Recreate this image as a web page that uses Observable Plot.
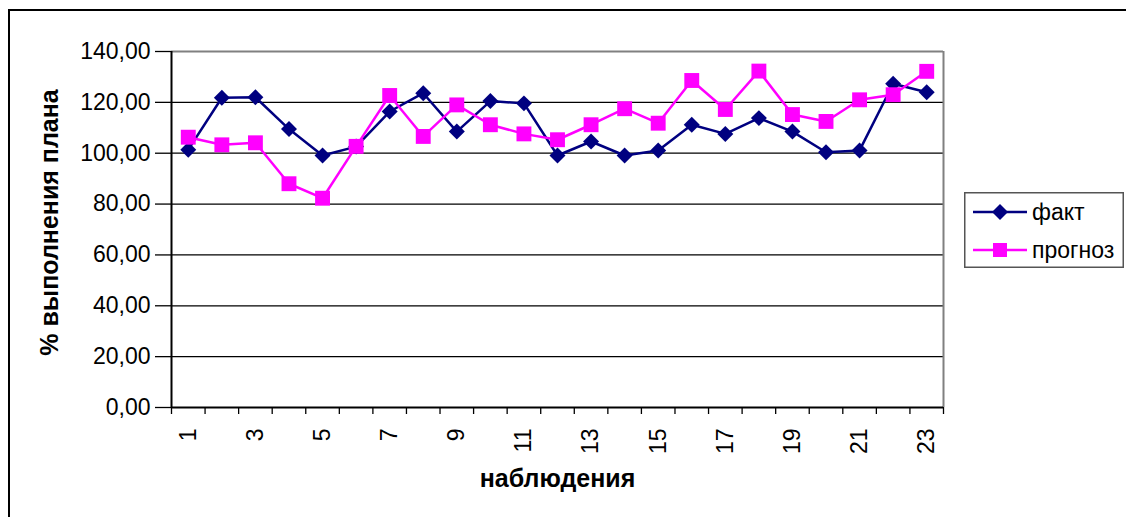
<!DOCTYPE html>
<html><head><meta charset="utf-8">
<script src="https://cdn.jsdelivr.net/npm/d3@7"></script>
<script src="https://cdn.jsdelivr.net/npm/@observablehq/plot@0.6"></script>
<style>
body{margin:0;background:#fff;}
#wrap{position:relative;width:1126px;height:517px;overflow:hidden;font-family:Arial,"Liberation Sans",sans-serif;background:#fff;}
#frame{position:absolute;left:8px;top:9px;width:1300px;height:700px;border:2px solid #000;box-sizing:border-box;}
#chart{position:absolute;left:0;top:0;}
#legend{position:absolute;left:964px;top:192px;}
</style>
</head><body>
<div id="wrap"><div id="frame"></div><div id="chart"></div><div id="legend"></div></div>
<script>
const observations = [1,2,3,4,5,6,7,8,9,10,11,12,13,14,15,16,17,18,19,20,21,22,23];
const fact =     [101.4,121.8,122.0,109.5,99.1,102.6,116.4,123.6,108.5,120.5,119.6,99.1,104.6,99.1,101.1,111.2,107.6,113.8,108.5,100.4,101.1,127.3,124.0];
const forecast = [106.3,103.3,104.1,88.0,82.3,102.7,122.7,106.6,119.0,111.2,107.6,105.3,111.2,117.5,111.8,128.6,117.2,132.3,115.2,112.5,121.0,123.0,132.2];
const yTicks = [0,20,40,60,80,100,120,140];
const xTickLabels = [1,3,5,7,9,11,13,15,17,19,21,23];
const seriesNames = ["факт","прогноз"];
const colors = ["#000080","#FF00FF"];
const xTitle = "наблюдения";
const yTitle = "% выполнения плана";

const factData = observations.map((o,i)=>({x:o,y:fact[i]}));
const forecastData = observations.map((o,i)=>({x:o,y:forecast[i]}));
const bounds = [observations[0]-0.5, ...observations.map(o=>o+0.5)];
const font = "Arial, 'Liberation Sans', sans-serif";

const chart = Plot.plot({
  width:1126, height:517,
  marginLeft:171, marginRight:183, marginTop:51, marginBottom:110,
  x:{domain:[bounds[0], bounds[bounds.length-1]]},
  y:{domain:[0,140]},
  style:{fontFamily:font, fontSize:"23px", color:"#000", background:"transparent", overflow:"visible"},
  marks:[
    Plot.ruleY(yTicks.filter(d=>d>0 && d<140), {stroke:"#000", strokeWidth:1.3}),
    Plot.ruleY([yTicks[yTicks.length-1]], {stroke:"#808080", strokeWidth:2}),
    Plot.ruleX([bounds[bounds.length-1]], {stroke:"#808080", strokeWidth:2}),
    Plot.axisY({ticks:yTicks, tickFormat:d=>d.toFixed(2).replace(".",","), tickSize:16, tickPadding:5, label:null, fontSize:23, strokeWidth:1.3}),
    Plot.axisX({ticks:bounds, tickFormat:()=>"", tickSize:7, label:null, strokeWidth:1.3}),
    Plot.ruleX([bounds[0]], {stroke:"#000", strokeWidth:2}),
    Plot.ruleY([0], {stroke:"#000", strokeWidth:2}),
    Plot.text(xTickLabels, {x:d=>d, text:d=>String(d), frameAnchor:"bottom", rotate:-90, textAnchor:"end", lineAnchor:"middle", dy:21, fontSize:23, fill:"#000"}),
    Plot.text([xTitle], {frameAnchor:"bottom", textAnchor:"middle", lineAnchor:"middle", dy:71, fontWeight:"bold", fontSize:25, fill:"#000"}),
    Plot.text([yTitle], {frameAnchor:"left", rotate:-90, textAnchor:"middle", lineAnchor:"middle", dx:-122, dy:-7, fontWeight:"bold", fontSize:25, fill:"#000"}),
    Plot.line(factData, {x:"x", y:"y", stroke:colors[0], strokeWidth:2.5}),
    Plot.dot(factData, {x:"x", y:"y", symbol:"diamond2", r:7.2, fill:colors[0], stroke:"none"}),
    Plot.line(forecastData, {x:"x", y:"y", stroke:colors[1], strokeWidth:2.5}),
    Plot.dot(forecastData, {x:"x", y:"y", symbol:"square", r:8.4, fill:colors[1], stroke:"none"})
  ]
});
document.getElementById("chart").appendChild(chart);

// legend
const lg = d3.select("#legend").append("svg").attr("width",160).attr("height",76)
  .style("font-family",font);
lg.append("rect").attr("x",0.75).attr("y",0.75).attr("width",158.5).attr("height",74.5)
  .attr("fill","#fff").attr("stroke","#555").attr("stroke-width",1.5);
const ys = [20,58];
seriesNames.forEach((n,i)=>{
  const g = lg.append("g").attr("transform",`translate(0,${ys[i]})`);
  g.append("line").attr("x1",9).attr("x2",63).attr("stroke",colors[i]).attr("stroke-width",2.5);
  if(i===0){
    g.append("path").attr("d",d3.symbol(d3.symbolDiamond2, 163)()).attr("transform","translate(36,0)").attr("fill",colors[i]);
  } else {
    g.append("rect").attr("x",29).attr("y",-7).attr("width",14).attr("height",14).attr("fill",colors[i]);
  }
  g.append("text").attr("x",68).attr("y",8).attr("font-size",23).attr("fill","#000").text(n);
});
</script>
</body></html>
